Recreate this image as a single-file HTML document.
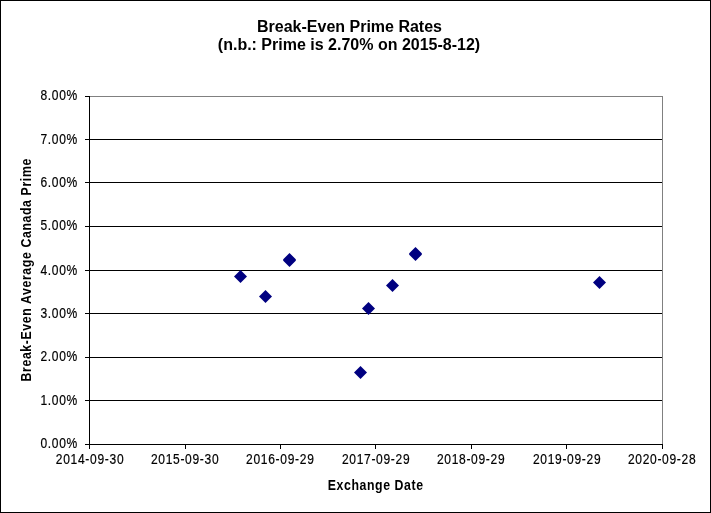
<!DOCTYPE html>
<html><head><meta charset="utf-8"><style>
html,body{margin:0;padding:0;background:#fff;}
body{width:711px;height:513px;position:relative;overflow:hidden;font-family:"Liberation Sans",sans-serif;}
svg{position:absolute;left:0;top:0;will-change:transform;}
text{font-family:"Liberation Sans",sans-serif;fill:#000;}
.t{font-size:16px;font-weight:bold;}
.yl{font-size:14px;stroke:#000;stroke-width:0.2px;}
.xl{font-size:14px;stroke:#000;stroke-width:0.2px;}
.at{font-size:14px;font-weight:bold;}
</style></head><body>
<svg width="711" height="513" viewBox="0 0 711 513">
<rect x="0.5" y="0.5" width="710" height="512" fill="#fff" stroke="#000" stroke-width="1"/>
<g stroke="#000" stroke-width="1" shape-rendering="crispEdges">
<line x1="89" y1="139.5" x2="662" y2="139.5"/>
<line x1="89" y1="182.5" x2="662" y2="182.5"/>
<line x1="89" y1="226.5" x2="662" y2="226.5"/>
<line x1="89" y1="270.5" x2="662" y2="270.5"/>
<line x1="89" y1="313.5" x2="662" y2="313.5"/>
<line x1="89" y1="357.5" x2="662" y2="357.5"/>
<line x1="89" y1="400.5" x2="662" y2="400.5"/>
</g>
<g stroke="#808080" stroke-width="1" shape-rendering="crispEdges">
<line x1="89" y1="96.5" x2="663" y2="96.5"/>
<line x1="662.5" y1="96" x2="662.5" y2="444"/>
</g>
<g stroke="#000" stroke-width="1" shape-rendering="crispEdges">
<line x1="89.5" y1="96" x2="89.5" y2="449"/>
<line x1="85" y1="444.5" x2="663" y2="444.5"/>
<line x1="85" y1="96.5" x2="89" y2="96.5"/>
<line x1="85" y1="139.5" x2="89" y2="139.5"/>
<line x1="85" y1="182.5" x2="89" y2="182.5"/>
<line x1="85" y1="226.5" x2="89" y2="226.5"/>
<line x1="85" y1="270.5" x2="89" y2="270.5"/>
<line x1="85" y1="313.5" x2="89" y2="313.5"/>
<line x1="85" y1="357.5" x2="89" y2="357.5"/>
<line x1="85" y1="400.5" x2="89" y2="400.5"/>
<line x1="185.5" y1="445" x2="185.5" y2="449"/>
<line x1="280.5" y1="445" x2="280.5" y2="449"/>
<line x1="375.5" y1="445" x2="375.5" y2="449"/>
<line x1="471.5" y1="445" x2="471.5" y2="449"/>
<line x1="566.5" y1="445" x2="566.5" y2="449"/>
<line x1="662.5" y1="445" x2="662.5" y2="449"/>
</g>
<g fill="#000080">
<path d="M240.5 270l6.5 6.5l-6.5 6.5l-6.5 -6.5z"/>
<path d="M265.5 290l6.5 6.5l-6.5 6.5l-6.5 -6.5z"/>
<path d="M289.5 253l6.5 6.5l-6.5 6.5l-6.5 -6.5z"/>
<path d="M289.5 254l6.5 6.5l-6.5 6.5l-6.5 -6.5z"/>
<path d="M360.5 366l6.5 6.5l-6.5 6.5l-6.5 -6.5z"/>
<path d="M368.5 302l6.5 6.5l-6.5 6.5l-6.5 -6.5z"/>
<path d="M392.5 279l6.5 6.5l-6.5 6.5l-6.5 -6.5z"/>
<path d="M415.5 247l6.5 6.5l-6.5 6.5l-6.5 -6.5z"/>
<path d="M415.5 248l6.5 6.5l-6.5 6.5l-6.5 -6.5z"/>
<path d="M599.5 276l6.5 6.5l-6.5 6.5l-6.5 -6.5z"/>
</g>
<text class="t" x="349.5" y="32" text-anchor="middle">Break-Even Prime Rates</text>
<text class="t" x="349" y="50" text-anchor="middle">(n.b.: Prime is 2.70% on 2015-8-12)</text>
<g class="yl" text-anchor="end">
<text transform="translate(78,100) scale(0.86,1)" letter-spacing="0.8">8.00%</text>
<text transform="translate(78,144) scale(0.86,1)" letter-spacing="0.8">7.00%</text>
<text transform="translate(78,187) scale(0.86,1)" letter-spacing="0.8">6.00%</text>
<text transform="translate(78,230) scale(0.86,1)" letter-spacing="0.8">5.00%</text>
<text transform="translate(78,275) scale(0.86,1)" letter-spacing="0.8">4.00%</text>
<text transform="translate(78,318) scale(0.86,1)" letter-spacing="0.8">3.00%</text>
<text transform="translate(78,361) scale(0.86,1)" letter-spacing="0.8">2.00%</text>
<text transform="translate(78,405) scale(0.86,1)" letter-spacing="0.8">1.00%</text>
<text transform="translate(78,448) scale(0.86,1)" letter-spacing="0.8">0.00%</text>
</g>
<g class="xl" text-anchor="middle">
<text transform="translate(90.05,464) scale(0.86,1)" letter-spacing="0.8">2014-09-30</text>
<text transform="translate(185.1,464) scale(0.86,1)" letter-spacing="0.8">2015-09-30</text>
<text transform="translate(280.3,464) scale(0.86,1)" letter-spacing="0.8">2016-09-29</text>
<text transform="translate(376.1,464) scale(0.86,1)" letter-spacing="0.8">2017-09-29</text>
<text transform="translate(471.1,464) scale(0.86,1)" letter-spacing="0.8">2018-09-29</text>
<text transform="translate(567.1,464) scale(0.86,1)" letter-spacing="0.8">2019-09-29</text>
<text transform="translate(662.1,464) scale(0.86,1)" letter-spacing="0.8">2020-09-28</text>
</g>
<text class="at" transform="translate(375.7,490) scale(0.88,1)" letter-spacing="0.67" text-anchor="middle">Exchange Date</text>
<text class="at" transform="translate(30.8,269.8) rotate(-90) scale(0.88,1)" letter-spacing="0.7" text-anchor="middle">Break-Even Average Canada Prime</text>
</svg>
</body></html>
